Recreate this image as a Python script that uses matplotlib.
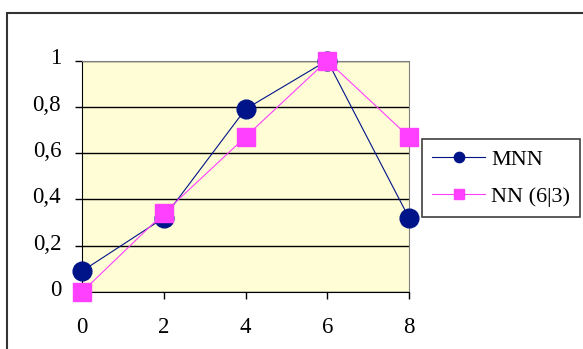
import matplotlib
matplotlib.use("Agg")
import matplotlib.pyplot as plt
import matplotlib.patches as mpatches
from matplotlib.transforms import ScaledTranslation

# ── Dados ─────────────────────────────────────────────────────────────────
x_vals = [0, 2, 4, 6, 8]
mnn = [0.09, 0.32, 0.79, 1.0, 0.32]
nn63 = [0.0, 0.34, 0.67, 1.0, 0.67]
series_labels = ["MNN", "NN (6|3)"]
x_ticks = [0, 2, 4, 6, 8]
y_ticks = [0, 0.2, 0.4, 0.6, 0.8, 1.0]
y_ticklabels = ["0", "0,2", "0,4", "0,6", "0,8", "1"]

BLUE = "#001489"
PINK = "#ff40ff"

plt.rcParams["font.family"] = ["Liberation Serif", "DejaVu Serif"]

fig = plt.figure(figsize=(5.83, 3.49), dpi=100)
ax = fig.add_axes([82 / 583, 1 - 292 / 349, 327 / 583, 231.5 / 349])
ax.set_facecolor("#fffdd5")

# moldura externa (cortada à direita e embaixo)
fig.patches.append(mpatches.Rectangle(
    (7 / 583, -0.1), 1.2, 1.1 - 13 / 349,
    transform=fig.transFigure, fill=False, edgecolor="#333333", lw=1.5))

ax.plot(x_vals, mnn, color=BLUE, lw=0.8, marker="o", markersize=13.5,
        markeredgecolor=BLUE, label=series_labels[0], clip_on=False, zorder=3)
ax.plot(x_vals, nn63, color=PINK, lw=0.8, marker="s", markersize=13,
        markeredgecolor=PINK, label=series_labels[1], clip_on=False, zorder=4)

ax.set_xlim(0, 8)
ax.set_ylim(0, 1)
ax.set_xticks(x_ticks)
ax.set_yticks(y_ticks)
ax.set_yticklabels(y_ticklabels)
ax.grid(axis="y", color="black", lw=1.0)
ax.set_axisbelow(True)

for side in ("top", "right"):
    ax.spines[side].set_color("#808080")
ax.spines["left"].set_color("black")
ax.spines["bottom"].set_color("black")

ax.tick_params(axis="both", direction="out", length=5, width=1, labelsize=16.5)
ax.tick_params(axis="y", pad=10)
ax.tick_params(axis="x", pad=13)
shift = ScaledTranslation(0, 3 / 72, fig.dpi_scale_trans)
for lbl in ax.get_yticklabels():
    lbl.set_transform(lbl.get_transform() + shift)

leg = fig.legend(loc="upper left", bbox_to_anchor=(422 / 583, 1 - 139 / 349),
                 borderaxespad=0, fontsize=16, markerscale=0.55,
                 handlelength=2.4, handletextpad=0.25, labelspacing=0.75,
                 borderpad=0.45, fancybox=False, framealpha=1)
leg.get_frame().set_edgecolor("#404040")
leg.get_frame().set_linewidth(1.2)

fig.savefig("out.png", dpi=100)
